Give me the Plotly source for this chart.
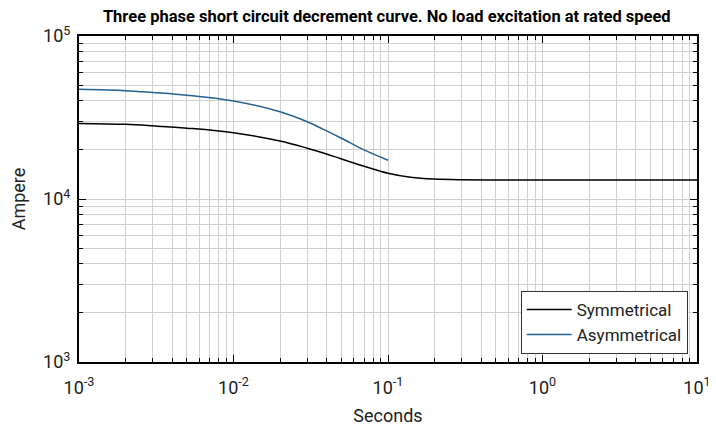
import plotly.graph_objects as go

sym_t = [0.001, 0.002, 0.003, 0.005, 0.01, 0.02, 0.03, 0.04, 0.05, 0.07, 0.1, 0.14, 0.2, 0.3, 0.5, 1.0, 3.0, 10.0]
sym_a = [29100, 28700, 28100, 27200, 25500, 22700, 20500, 18900, 17600, 15900, 14400, 13600, 13250, 13120, 13090, 13080, 13080, 13080]

asym_t = [0.001, 0.002, 0.003, 0.005, 0.01, 0.02, 0.03, 0.04, 0.05, 0.07, 0.1]
asym_a = [47100, 46200, 45000, 43300, 39900, 34300, 29800, 26200, 23600, 20000, 17300]

x_ticks = [0.001, 0.01, 0.1, 1, 10]
x_labels = ["10<sup>-3</sup>", "10<sup>-2</sup>", "10<sup>-1</sup>", "10<sup>0</sup>", "10<sup>1</sup>"]
y_ticks = [1000, 10000, 100000]
y_labels = ["10<sup>3</sup>", "10<sup>4</sup>", "10<sup>5</sup>"]

title = "Three phase short circuit decrement curve. No load excitation at rated speed"

FONT = "Roboto, Liberation Sans Narrow, sans-serif"

def minor_vals(lo_exp, hi_exp):
    vals = []
    for e in range(lo_exp, hi_exp):
        for m in range(2, 10):
            vals.append(m * 10 ** e)
    return vals

fig = go.Figure()
fig.add_trace(go.Scatter(x=sym_t, y=sym_a, mode="lines", name="Symmetrical",
                         line=dict(color="#000000", width=1.5, shape="spline", smoothing=1.0)))
fig.add_trace(go.Scatter(x=asym_t, y=asym_a, mode="lines", name="Asymmetrical",
                         line=dict(color="#23618f", width=1.5, shape="spline", smoothing=1.0)))

axis_common = dict(
    type="log", showline=True, linecolor="black", linewidth=2, mirror="allticks",
    ticks="inside", ticklen=7, tickwidth=1, tickcolor="black",
    showgrid=True, gridcolor="#d0d0d0", gridwidth=1.3, automargin=False,
    zeroline=False, tickfont=dict(family=FONT, size=18, color="#222"),
)

fig.update_xaxes(**axis_common, range=[-3, 1], tickmode="array", tickvals=x_ticks, ticktext=x_labels,
                 ticklabelstandoff=8,
                 minor=dict(tickmode="array", tickvals=minor_vals(-3, 1), ticks="inside", ticklen=4,
                            tickcolor="black", showgrid=True, gridcolor="#d0d0d0", gridwidth=1.3),
                 title=dict(text="Seconds", font=dict(family=FONT, size=18, color="#222"), standoff=13))
fig.update_yaxes(**axis_common, range=[3, 5], tickmode="array", tickvals=y_ticks, ticktext=y_labels,
                 ticklabelstandoff=3,
                 minor=dict(tickmode="array", tickvals=minor_vals(3, 5), ticks="inside", ticklen=4,
                            tickcolor="black", showgrid=True, gridcolor="#d0d0d0", gridwidth=1.3),
                 title=dict(text="Ampere", font=dict(family=FONT, size=18, color="#222"), standoff=13))

fig.update_layout(
    width=708, height=424,
    margin=dict(l=71, r=19, t=28, b=70),
    paper_bgcolor="white", plot_bgcolor="white",
    title=dict(text="<b>" + title + "</b>", x=0.535, xanchor="center", y=0.981, yanchor="middle",
               font=dict(family=FONT, size=16.5, color="black")),
    legend=dict(x=0.985, y=0.025, xanchor="right", yanchor="bottom",
                bgcolor="white", bordercolor="#333", borderwidth=1, itemwidth=45,
                font=dict(family=FONT, size=17, color="#222"), tracegroupgap=2),
    showlegend=True,
)

fig.write_html("out.html")
